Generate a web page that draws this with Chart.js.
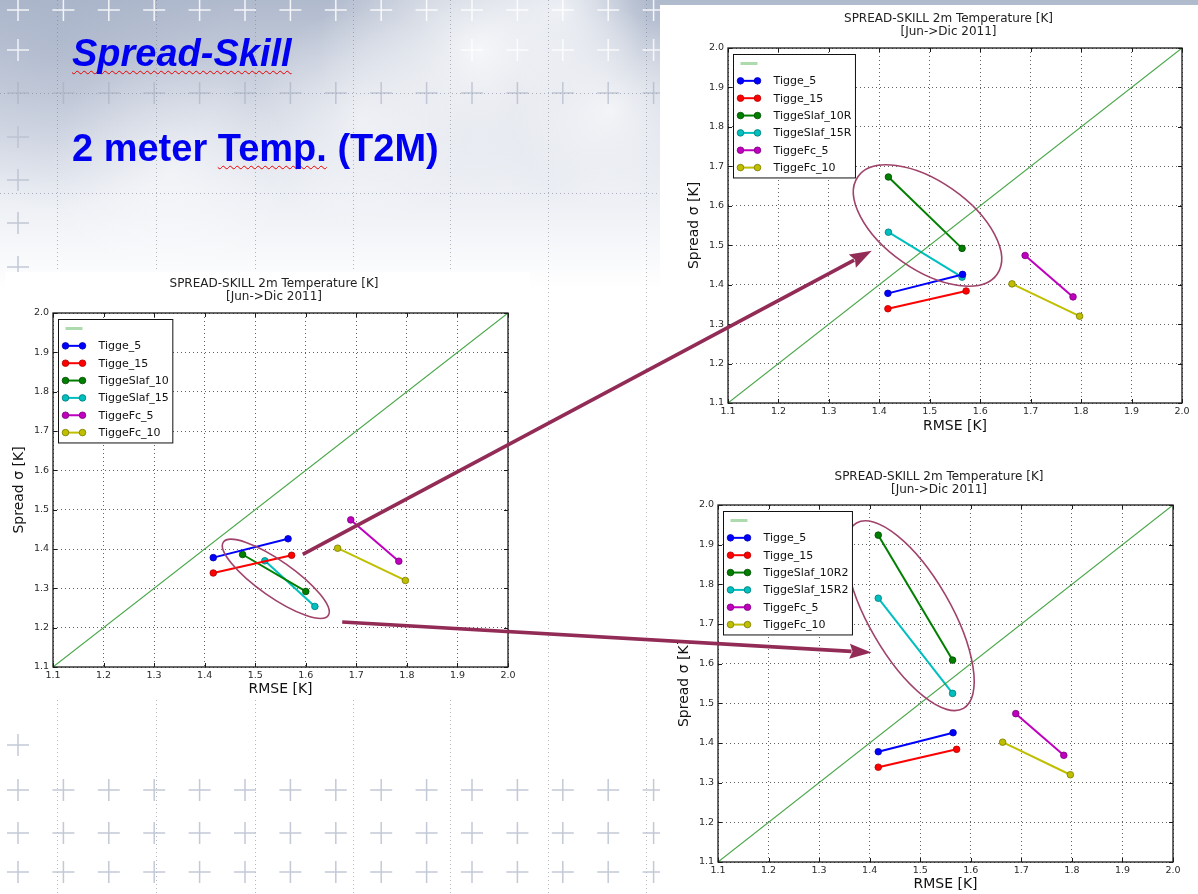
<!DOCTYPE html>
<html>
<head>
<meta charset="utf-8">
<title>Spread-Skill 2 meter Temp. (T2M)</title>
<script src="https://cdn.jsdelivr.net/npm/chart.js@4.4.1/dist/chart.umd.min.js"></script>
<style>
  html, body { margin: 0; padding: 0; background: #fff; }
  #slide { position: relative; width: 1198px; height: 894px; overflow: hidden; }
  #slide canvas { position: absolute; }
  .heading {
    position: absolute; left: 72px; margin: 0; color: #0000f0;
    font-family: 'Liberation Sans', Arial, sans-serif; font-weight: bold;
    font-size: 38px; line-height: 38px; white-space: nowrap;
  }
  .squiggle {
    text-decoration: underline wavy #e80000; text-decoration-thickness: 1px;
    text-underline-offset: 4px; text-decoration-skip-ink: none;
  }
</style>
</head>
<body>
<div id="slide">
  <canvas id="backdrop" width="1198" height="894" style="left:0;top:0"></canvas>
  <div class="heading" style="top:34px;font-style:italic"><span class="squiggle">Spread-Skill</span></div>
  <div class="heading" style="top:129px">2 meter <span class="squiggle">Temp.</span> (T2M)</div>
  <canvas id="chartA" width="525" height="428" style="left:5px;top:272px"></canvas>
  <canvas id="chartB" width="538" height="435" style="left:660px;top:5px"></canvas>
  <canvas id="chartC" width="538" height="434" style="left:660px;top:460px"></canvas>
  <canvas id="links" width="1198" height="894" style="left:0;top:0;pointer-events:none"></canvas>
</div>
<script>
// Tick values shared by both axes (RMSE and spread, in K)
const axisTicks = [1.1, 1.2, 1.3, 1.4, 1.5, 1.6, 1.7, 1.8, 1.9, 2.0];

// Perfect-spread reference line (spread = RMSE)
const diagonal = [[1.1, 1.1], [2.0, 2.0]];

// [RMSE, spread] pairs for each ensemble configuration
const tigge5   = [[1.417, 1.378], [1.565, 1.426]];
const tigge15  = [[1.417, 1.339], [1.572, 1.384]];
const slaf10   = [[1.475, 1.386], [1.600, 1.292]];
const slaf15   = [[1.519, 1.370], [1.618, 1.254]];
const slaf10R  = [[1.418, 1.673], [1.564, 1.492]];
const slaf15R  = [[1.418, 1.533], [1.564, 1.419]];
const slaf10R2 = [[1.417, 1.924], [1.564, 1.609]];
const slaf15R2 = [[1.417, 1.765], [1.564, 1.525]];
const fc5      = [[1.689, 1.474], [1.784, 1.369]];
const fc10     = [[1.663, 1.402], [1.797, 1.320]];

const labelsA = ['Tigge_5', 'Tigge_15', 'TiggeSlaf_10', 'TiggeSlaf_15', 'TiggeFc_5', 'TiggeFc_10'];
const labelsB = ['Tigge_5', 'Tigge_15', 'TiggeSlaf_10R', 'TiggeSlaf_15R', 'TiggeFc_5', 'TiggeFc_10'];
const labelsC = ['Tigge_5', 'Tigge_15', 'TiggeSlaf_10R2', 'TiggeSlaf_15R2', 'TiggeFc_5', 'TiggeFc_10'];

const titleLines = ['SPREAD-SKILL 2m Temperature [K]', '[Jun->Dic 2011]'];

// Styling
const seriesColors = ['#0000ff', '#ff0000', '#007f00', '#00bfbf', '#bf00bf', '#bfbf00'];
const markerEdges  = ['#0000b0', '#b00000', '#004a00', '#007a7a', '#7a007a', '#7a7a00'];
const FONT = "'DejaVu Sans', 'Bitstream Vera Sans', sans-serif";
const MAROON = '#922c56';

// ---------- slide backdrop: sky, dotted guides and crosses ----------
function paintBackdrop() {
  const g = document.getElementById('backdrop').getContext('2d');
  g.fillStyle = '#fff';
  g.fillRect(0, 0, 1198, 894);

  const sky = g.createLinearGradient(0, 0, 0, 290);
  sky.addColorStop(0, 'rgb(176,186,205)');
  sky.addColorStop(0.3, 'rgb(204,210,223)');
  sky.addColorStop(0.65, 'rgb(234,237,243)');
  sky.addColorStop(1, 'rgb(255,255,255)');
  g.fillStyle = sky;
  g.fillRect(0, 0, 1198, 290);

  const blob = (x, y, r, col) => {
    const rg = g.createRadialGradient(x, y, 0, x, y, r);
    rg.addColorStop(0, col);
    rg.addColorStop(1, col.replace(/[\d.]+\)$/, '0)'));
    g.fillStyle = rg;
    g.fillRect(x - r, y - r, 2 * r, 2 * r);
  };
  blob(60, 40, 170, 'rgba(160,172,196,0.45)');
  blob(480, 50, 160, 'rgba(255,255,255,0.85)');
  blob(610, 110, 100, 'rgba(255,255,255,0.7)');
  blob(360, 120, 110, 'rgba(255,255,255,0.55)');
  blob(560, 10, 90, 'rgba(250,251,253,0.7)');
  blob(170, 170, 120, 'rgba(255,255,255,0.45)');

  // dotted guides
  g.fillStyle = 'rgba(120,126,142,0.55)';
  [57, 156, 255, 353, 450, 548, 646].forEach(x => {
    for (let y = 0; y < 894; y += 4) g.fillRect(x, y, 1, 1);
  });
  [93, 193].forEach(y => {
    for (let x = 0; x < 660; x += 4) g.fillRect(x, y, 1, 1);
  });

  const cross = (x, y, col) => {
    g.strokeStyle = col;
    g.lineWidth = 1.5;
    g.beginPath();
    g.moveTo(x - 11, y); g.lineTo(x + 11, y);
    g.moveTo(x, y - 11); g.lineTo(x, y + 11);
    g.stroke();
  };
  const colX = k => 18 + 45.4 * k;
  for (let k = 0; k < 15; k++) {
    cross(colX(k), 10, 'rgba(255,255,255,0.85)');
    if (k === 0 || k >= 10) cross(colX(k), 50, 'rgba(255,255,255,0.8)');
    cross(colX(k), 93, 'rgba(165,174,192,0.6)');
  }
  [137, 180, 223, 267].forEach(y => cross(18, y, 'rgba(185,192,207,0.85)'));
  cross(18, 745, 'rgba(185,192,207,0.85)');
  [790, 833, 872].forEach(y => {
    for (let k = 0; k < 15; k++) cross(colX(k), y, 'rgba(185,192,207,0.85)');
  });
}

// ---------- per-chart decoration: frame, inward ticks, title, legend, highlight ellipse ----------
const figureDecor = {
  id: 'figureDecor',
  beforeDraw(chart) {
    const ctx = chart.ctx;
    ctx.save();
    ctx.fillStyle = '#fff';
    ctx.fillRect(0, 0, chart.width, chart.height);
    ctx.restore();
  },
  afterDraw(chart, args, opts) {
    const {ctx, chartArea: a, scales: {x, y}} = chart;
    ctx.save();

    // axes frame
    ctx.strokeStyle = '#1a1a1a';
    ctx.lineWidth = 1.3;
    ctx.strokeRect(a.left, a.top, a.right - a.left, a.bottom - a.top);

    // inward tick marks on all four sides
    ctx.lineWidth = 1;
    ctx.beginPath();
    axisTicks.forEach(v => {
      const px = Math.round(x.getPixelForValue(v)) + 0.5;
      ctx.moveTo(px, a.bottom); ctx.lineTo(px, a.bottom - 4);
      ctx.moveTo(px, a.top); ctx.lineTo(px, a.top + 4);
      const py = Math.round(y.getPixelForValue(v)) + 0.5;
      ctx.moveTo(a.left, py); ctx.lineTo(a.left + 4, py);
      ctx.moveTo(a.right, py); ctx.lineTo(a.right - 4, py);
    });
    ctx.stroke();

    // two-line title
    ctx.fillStyle = '#222';
    ctx.font = '12px ' + FONT;
    ctx.textAlign = 'center';
    ctx.textBaseline = 'middle';
    const cx = (a.left + a.right) / 2 + opts.titleShift;
    titleLines.forEach((t, i) => ctx.fillText(t, cx, opts.titleY[i]));

    // highlight ellipse around the SLAF runs
    if (opts.ellipse) {
      const e = opts.ellipse;
      ctx.strokeStyle = '#a0426a';
      ctx.lineWidth = 1.6;
      ctx.beginPath();
      ctx.ellipse(x.getPixelForValue(e.x), y.getPixelForValue(e.y), e.rx, e.ry,
                  e.angle * Math.PI / 180, 0, Math.PI * 2);
      ctx.stroke();
    }

    // legend box
    const sets = chart.data.datasets;
    ctx.font = '11px ' + FONT;
    const textW = Math.max(...sets.map(d => ctx.measureText(d.label).width));
    const x0 = Math.round(a.left + 5) + 0.5, y0 = Math.round(a.top + 5.5) + 0.5;
    const rowH = 17.35;
    const w = 40 + textW + 4, h = rowH * sets.length + 2;
    ctx.fillStyle = '#fff';
    ctx.fillRect(x0, y0, w, h);
    ctx.strokeStyle = '#111';
    ctx.lineWidth = 1;
    ctx.strokeRect(x0, y0, w, h);
    ctx.textAlign = 'left';
    sets.forEach((d, i) => {
      const cy = y0 + 9 + i * rowH;
      const hx0 = x0 + 7, hx1 = x0 + 24;
      ctx.beginPath();
      ctx.moveTo(hx0, cy); ctx.lineTo(hx1, cy);
      if (d.pointRadius === 0) {
        ctx.strokeStyle = d.legendColor;
        ctx.lineWidth = 3;
        ctx.stroke();
      } else {
        ctx.strokeStyle = d.borderColor;
        ctx.lineWidth = 2;
        ctx.stroke();
        [hx0, hx1].forEach(px => {
          ctx.beginPath();
          ctx.arc(px, cy, d.pointRadius, 0, Math.PI * 2);
          ctx.fillStyle = d.pointBackgroundColor;
          ctx.fill();
          ctx.strokeStyle = d.pointBorderColor;
          ctx.lineWidth = d.pointBorderWidth;
          ctx.stroke();
        });
      }
      ctx.fillStyle = '#111';
      ctx.fillText(d.label, x0 + 40, cy + 0.5);
    });
    ctx.restore();
  }
};

function toPoints(pairs) {
  return pairs.map(([x, y]) => ({x, y}));
}

function makeDatasets(seriesList, labels) {
  const sets = [{
    label: '',
    data: toPoints(diagonal),
    showLine: true,
    borderColor: 'rgba(40,150,40,0.85)',
    legendColor: 'rgba(40,160,40,0.38)',
    borderWidth: 1.1,
    pointRadius: 0
  }];
  seriesList.forEach((pairs, i) => sets.push({
    label: labels[i],
    data: toPoints(pairs),
    showLine: true,
    borderColor: seriesColors[i],
    backgroundColor: seriesColors[i],
    borderWidth: 2,
    pointRadius: 3.3,
    pointBackgroundColor: seriesColors[i],
    pointBorderColor: markerEdges[i],
    pointBorderWidth: 0.8
  }));
  return sets;
}

function axis(size, title, titlePad, isX) {
  return {
    type: 'linear',
    position: isX ? 'bottom' : 'left',
    min: 1.1,
    max: 2.0,
    afterBuildTicks: s => { s.ticks = axisTicks.map(v => ({value: v})); },
    afterFit: s => { if (isX) s.height = size; else s.width = size; },
    ticks: {
      font: {family: FONT, size: 9.5},
      color: '#2a2a2a',
      padding: isX ? 3 : 4,
      autoSkip: false,
      maxRotation: 0,
      callback: v => Number(v).toFixed(1)
    },
    grid: {color: 'rgba(70,70,70,0.85)', lineWidth: 1, drawTicks: false},
    border: {display: false, dash: [1, 3]},
    title: {
      display: true,
      text: title,
      color: '#111',
      font: {family: FONT, size: 14},
      padding: isX ? {top: 0, bottom: titlePad} : {top: titlePad, bottom: 0}
    }
  };
}

function buildChart(id, seriesList, labels, f) {
  return new Chart(document.getElementById(id), {
    type: 'scatter',
    data: {datasets: makeDatasets(seriesList, labels)},
    options: {
      responsive: false,
      animation: false,
      events: [],
      layout: {padding: {left: 0, top: f.top, right: f.right, bottom: 0}},
      plugins: {
        legend: {display: false},
        tooltip: {enabled: false},
        figureDecor: {titleY: f.titleY, titleShift: -6.5, ellipse: f.ellipse}
      },
      scales: {
        x: axis(f.xAxisH, 'RMSE [K]', f.xTitlePad, true),
        y: axis(f.yAxisW, 'Spread σ [K]', f.yTitlePad, false)
      }
    },
    plugins: [figureDecor]
  });
}

paintBackdrop();

const chartA = buildChart('chartA', [tigge5, tigge15, slaf10, slaf15, fc5, fc10], labelsA, {
  top: 41, right: 22, yAxisW: 48, xAxisH: 33, yTitlePad: 5.6, xTitlePad: 2.6,
  titleY: [12, 25],
  ellipse: {x: 1.5407, y: 1.3242, rx: 64, ry: 18, angle: 35}
});
const chartB = buildChart('chartB', [tigge5, tigge15, slaf10R, slaf15R, fc5, fc10], labelsB, {
  top: 43, right: 16, yAxisW: 68, xAxisH: 37, yTitlePad: 25.6, xTitlePad: 5.6,
  titleY: [14, 27],
  ellipse: {x: 1.4955, y: 1.55, rx: 85, ry: 44, angle: 35}
});
const chartC = buildChart('chartC', [tigge5, tigge15, slaf10R2, slaf15R2, fc5, fc10], labelsC, {
  top: 45, right: 25, yAxisW: 58, xAxisH: 32, yTitlePad: 15.6, xTitlePad: 1.6,
  titleY: [17, 30],
  ellipse: {x: 1.4798, y: 1.721, rx: 107, ry: 41, angle: 60}
});

// ---------- arrows linking the highlighted groups across panels ----------
const linkArrows = [
  {from: {chart: chartA, left: 5, top: 272, at: [1.594, 1.3865]},
   to:   {chart: chartB, left: 660, top: 5, at: [1.385, 1.486]}},
  {from: {chart: chartA, left: 5, top: 272, at: [1.672, 1.2144]},
   to:   {chart: chartC, left: 660, top: 460, at: [1.4036, 1.628]}}
];

function pagePoint(end) {
  const s = end.chart.scales;
  return {x: end.left + s.x.getPixelForValue(end.at[0]), y: end.top + s.y.getPixelForValue(end.at[1])};
}

function drawLinks() {
  const g = document.getElementById('links').getContext('2d');
  linkArrows.forEach(l => {
    const p0 = pagePoint(l.from), p1 = pagePoint(l.to);
    const dx = p1.x - p0.x, dy = p1.y - p0.y, len = Math.hypot(dx, dy);
    const ux = dx / len, uy = dy / len, nx = -uy, ny = ux;
    const headL = 22, headW = 7.5;
    const bx = p1.x - ux * headL, by = p1.y - uy * headL;
    g.strokeStyle = MAROON;
    g.lineWidth = 3.6;
    g.lineCap = 'butt';
    g.beginPath();
    g.moveTo(p0.x, p0.y);
    g.lineTo(bx + ux * 2, by + uy * 2);
    g.stroke();
    g.fillStyle = MAROON;
    g.beginPath();
    g.moveTo(p1.x, p1.y);
    g.lineTo(bx + nx * headW, by + ny * headW);
    g.lineTo(bx + ux * 3, by + uy * 3);
    g.lineTo(bx - nx * headW, by - ny * headW);
    g.closePath();
    g.fill();
  });
}
drawLinks();
</script>
</body>
</html>
